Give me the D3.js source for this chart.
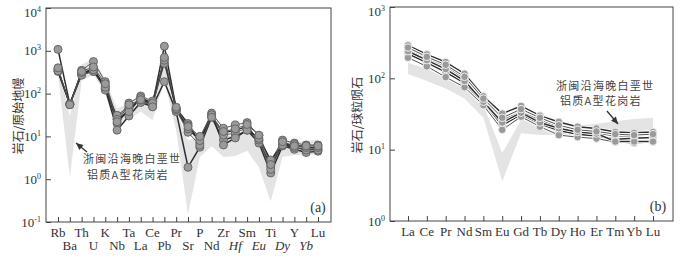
<!DOCTYPE html>
<html lang="zh">
<head>
<meta charset="UTF-8">
<title>蛛网图与稀土配分图</title>
<style>
  body { margin: 0; background: #fff; }
  svg text { font-family: "Liberation Serif", "DejaVu Serif", serif; fill: #333; }
  svg text.cn { font-family: "Noto Sans CJK SC", sans-serif; }
</style>
</head>
<body>
<div id="chart"></div>
<script src="https://d3js.org/d3.v7.min.js"></script>
<script>
// ---- panel (a) : primitive mantle normalised spider diagram ----
var elemA = ["Rb","Ba","Th","U","K","Nb","Ta","La","Ce","Pb","Pr","Sr","P","Nd","Zr","Hf","Sm","Eu","Ti","Dy","Y","Yb","Lu"];
var italicA = ["Hf","Eu","Dy","Yb"];
var samplesA = [
  [1080, 57, 300, 330, 150, 20, 45, 75, 55, 1280, 45, 20, 7, 30, 12, 14, 17, 8, 2.0, 6.5, 5.5, 5.0, 5.0],
  [380, 55, 350, 560, 190, 25, 60, 88, 67, 670, 40, 18, 9.3, 35, 15.5, 18.5, 21, 10.5, 2.6, 8.2, 7.0, 6.3, 6.3],
  [330, 57, 280, 390, 130, 14, 30, 62, 50, 190, 38, 1.9, 5.6, 28, 8.2, 10, 14, 7.0, 1.4, 6.0, 5.0, 4.2, 4.5],
  [360, 58, 270, 330, 121, 31, 50, 70, 54, 510, 42, 12.5, 6.2, 30, 10.7, 12, 16, 8.2, 1.7, 7.0, 5.5, 4.8, 4.8],
  [340, 56, 310, 360, 140, 25, 38, 80, 60, 600, 44, 15, 8.0, 32, 6.3, 9.2, 14, 9.0, 2.8, 6.3, 6.5, 5.5, 5.5],
  [400, 55, 330, 420, 170, 22, 55, 72, 49, 700, 48, 17, 10, 28, 13, 15, 19, 10.7, 2.2, 7.5, 6.0, 6.0, 6.0]
];
// field of the coastal Zhejiang-Fujian A-type granites
var fieldUpperA = [500, 30, 480, 650, 210, 45, 60, 95, 55, 650, 40, 8, 10, 30, 10, 11, 14, 5.6, 3.0, 8.2, 7.4, 7.8, 8.5];
var fieldLowerA = [280, 1.1, 200, 280, 100, 20, 25, 38, 24, 200, 14, 0.15, 3.3, 6, 3.3, 3.5, 4.6, 1.9, 0.3, 3.3, 3.7, 3.7, 3.8];
var yTicksA = [0.1, 1, 10, 100, 1000, 10000];

// ---- panel (b) : chondrite normalised REE pattern ----
var elemB = ["La","Ce","Pr","Nd","Sm","Eu","Gd","Tb","Dy","Ho","Er","Tm","Yb","Lu"];
var samplesB = [
  [290, 217, 169, 116, 56, 32, 41, 30, 24.5, 21, 19.8, 17.7, 17.2, 17.7],
  [252, 189, 147, 99, 49, 26, 34, 26, 21, 18.5, 17, 15.5, 15.5, 16],
  [221, 166, 122, 86, 45, 22, 31, 23, 18.5, 16.5, 15.5, 14, 14.5, 14.8],
  [195, 147, 104, 75, 42, 19, 29, 21, 16, 15, 14.3, 12.8, 12.4, 12.8],
  [240, 180, 135, 92, 47, 24, 33, 24, 20, 17.7, 16.8, 13, 13, 13],
  [270, 200, 155, 105, 52, 28, 37, 28, 22, 19, 18, 16.5, 16, 16.5]
];
var fieldUpperB = [165, 135, 105, 78, 42, 9, 26, 24, 23, 22, 23, 25, 27, 28];
var fieldLowerB = [115, 92, 72, 52, 28, 3.6, 17, 16, 16, 16, 17, 17, 18, 19];
var yTicksB = [1, 10, 100, 1000];

var svg = d3.select("#chart").append("svg")
  .attr("width", 680).attr("height", 261);

function panel(o) {
  var x = d3.scalePoint().domain(o.elems).range([o.x0 + o.pad, o.x1 - o.padR]);
  var y = d3.scaleLog().domain(o.ydom).range([o.y1, o.y0]);
  var g = svg.append("g");

  // grey field
  var area = d3.area()
    .x(function (d, i) { return x(o.elems[i]); })
    .y0(function (d, i) { return y(o.lower[i]); })
    .y1(function (d) { return y(d); });
  g.append("path").datum(o.upper)
    .attr("d", area)
    .attr("fill", "#e4e4e4");

  // sample lines
  var line = d3.line()
    .x(function (d, i) { return x(o.elems[i]); })
    .y(function (d) { return y(d); });
  o.samples.forEach(function (s, k) {
    if (o.halo) {
      g.append("path").datum(s).attr("d", line)
        .attr("fill", "none").attr("stroke", "#fff").attr("stroke-width", 3);
    }
    g.append("path").datum(s).attr("d", line)
      .attr("fill", "none")
      .attr("stroke", k % 2 ? "#555" : "#2e2e2e")
      .attr("stroke-width", k % 2 ? 1 : 1.5);
  });
  o.samples.forEach(function (s) {
    g.selectAll(null).data(s).enter().append("circle")
      .attr("cx", function (d, i) { return x(o.elems[i]); })
      .attr("cy", function (d) { return y(d); })
      .attr("r", o.r)
      .attr("fill", "#9a9a9a")
      .attr("stroke", o.halo ? "#eee" : "#666")
      .attr("stroke-width", 1);
  });

  // frame
  g.append("rect")
    .attr("x", o.x0).attr("y", o.y0)
    .attr("width", o.x1 - o.x0).attr("height", o.y1 - o.y0)
    .attr("fill", "none").attr("stroke", "#444").attr("stroke-width", 1);

  // bottom axis, ticks inward
  var ax = g.append("g")
    .attr("transform", "translate(0," + o.y1 + ")")
    .call(d3.axisBottom(x).tickSize(-5).tickFormat(""));
  ax.select(".domain").remove();
  ax.selectAll("line").attr("stroke", "#444");
  g.selectAll(null).data(o.elems).enter().append("text")
    .attr("x", function (d) { return x(d); })
    .attr("y", function (d, i) { return o.twoRows && i % 2 ? o.y1 + 28 : o.y1 + 15; })
    .attr("text-anchor", "middle")
    .style("font-size", "13px")
    .style("font-style", function (d) { return o.italic && o.italic.indexOf(d) >= 0 ? "italic" : "normal"; })
    .text(function (d) { return d; });

  // left axis, ticks inward
  var ay = g.append("g")
    .attr("transform", "translate(" + o.x0 + ",0)")
    .call(d3.axisLeft(y).tickValues(o.yticks).tickSize(-5).tickFormat(""));
  ay.select(".domain").remove();
  ay.selectAll("line").attr("stroke", "#444");
  var tl = g.selectAll(null).data(o.yticks).enter().append("text")
    .attr("x", o.x0 - 5)
    .attr("y", function (d, i) { return y(d) + (i === o.yticks.length - 1 ? 9 : 4.5); })
    .attr("text-anchor", "end")
    .style("font-size", "13px");
  tl.append("tspan").text("10");
  tl.append("tspan").attr("dy", -5).style("font-size", "8px")
    .text(function (d) { return Math.round(Math.log10(d)); });

  // y title
  g.append("text").attr("class", "cn")
    .attr("transform", "translate(" + o.titleX + "," + ((o.y0 + o.y1) / 2 + 1) + ") rotate(-90)")
    .attr("text-anchor", "middle")
    .style("font-size", "12px")
    .text(o.title);

  // panel tag
  g.append("text")
    .attr("x", o.tagX).attr("y", o.y1 - 10)
    .attr("text-anchor", "middle")
    .style("font-size", "14px")
    .text(o.tag);

  // annotation (one text, two lines)
  var nt = g.append("text").attr("class", "cn")
    .attr("x", o.noteX).attr("y", o.noteY)
    .style("font-size", "11px")
    .style("letter-spacing", "1.3px")
    .style("fill", "#444");
  o.note.forEach(function (t, i) {
    nt.append("tspan")
      .attr("x", o.noteX + (i ? o.noteIndent : 0))
      .attr("dy", i ? o.noteGap : 0)
      .text(t);
  });
  var a = o.arrow;
  g.append("line")
    .attr("x1", a[0]).attr("y1", a[1]).attr("x2", a[2]).attr("y2", a[3])
    .attr("stroke", "#333").attr("stroke-width", 1.3);
  var ang = Math.atan2(a[3] - a[1], a[2] - a[0]);
  var L = 7, W = 3.2;
  var bx = a[2] - L * Math.cos(ang), by = a[3] - L * Math.sin(ang);
  g.append("path")
    .attr("d", "M" + a[2] + "," + a[3] +
      "L" + (bx + W * Math.sin(ang)) + "," + (by - W * Math.cos(ang)) +
      "L" + (bx - W * Math.sin(ang)) + "," + (by + W * Math.cos(ang)) + "Z")
    .attr("fill", "#333");
}

var note = ["浙闽沿海晚白垩世", "铝质A型花岗岩"];

panel({
  elems: elemA, italic: italicA, samples: samplesA, upper: fieldUpperA, lower: fieldLowerA,
  x0: 46, x1: 331, y0: 8, y1: 222, pad: 12, padR: 13,
  ydom: [0.1, 10000], yticks: yTicksA, r: 4, halo: false, twoRows: true,
  title: "岩石/原始地幔", titleX: 23, tag: "(a)", tagX: 318,
  note: note, noteX: 83, noteY: 163, noteIndent: 4, noteGap: 15.5, arrow: [87, 152, 76, 143]
});

panel({
  elems: elemB, samples: samplesB, upper: fieldUpperB, lower: fieldLowerB,
  x0: 390, x1: 673, y0: 7, y1: 221, pad: 18, padR: 20,
  ydom: [1, 1000], yticks: yTicksB, r: 3.8, halo: true, twoRows: false,
  title: "岩石/球粒陨石", titleX: 362, tag: "(b)", tagX: 658,
  note: note, noteX: 556, noteY: 90, noteIndent: 4, noteGap: 15, arrow: [607, 111, 618, 124]
});
</script>
</body>
</html>
